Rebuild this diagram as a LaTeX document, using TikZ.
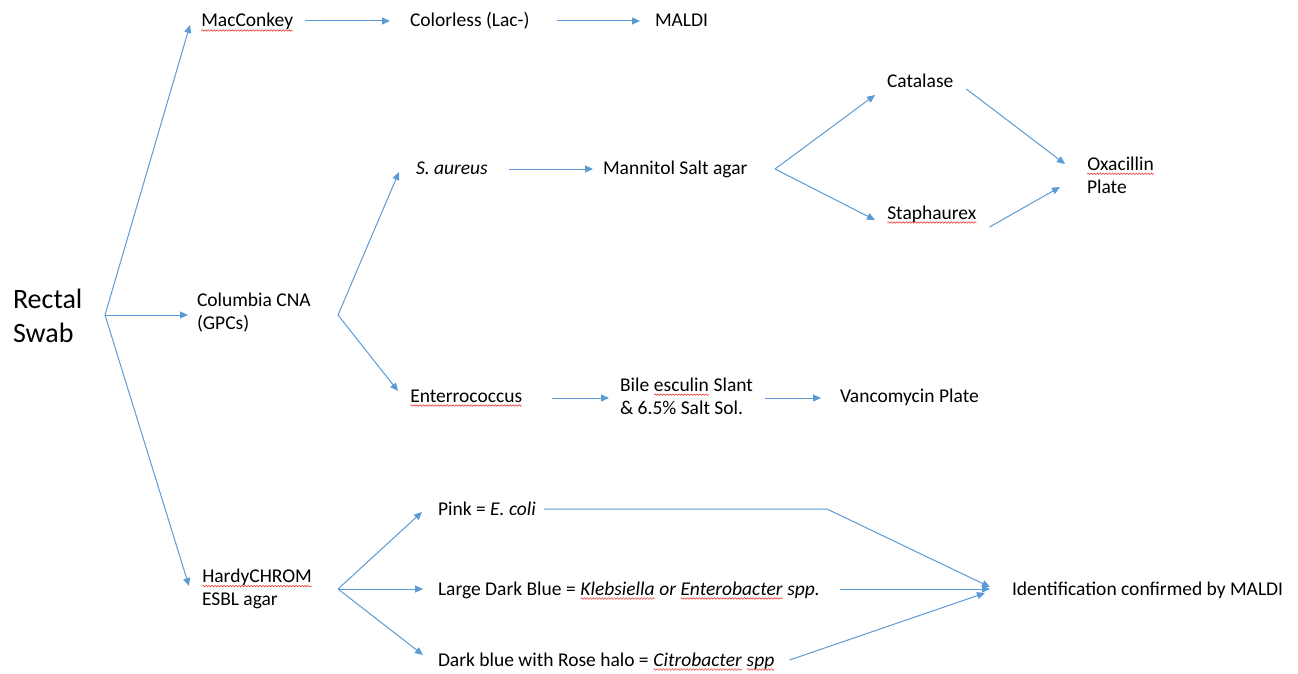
\documentclass[tikz,border=0pt]{standalone}
\usepackage{fontspec}
\setmainfont{Carlito}
\usepackage{xcolor}
\usepackage{tikz}
\usetikzlibrary{arrows.meta}
\usetikzlibrary{decorations.pathmorphing}

\definecolor{flowblue}{RGB}{91,155,213}
\definecolor{spellred}{RGB}{230,40,40}
% red wavy mark under words, as in the scan
\newcommand{\spellmark}[1]{\tikz[baseline=(w.base)]{\node[inner sep=0pt, outer sep=0pt] (w) {#1};
    \draw[spellred, line width=0.5pt, decorate, decoration={snake, amplitude=0.8pt, segment length=3pt}]
        ([yshift=-3.5pt]w.base west) -- ([yshift=-3.5pt]w.base east);}}

\tikzset{
    lbl/.style={anchor=west, inner sep=0pt, outer sep=0pt, text height=14pt, text depth=2pt,
        font=\fontsize{19.5}{23}\selectfont},
    lbltwo/.style={anchor=west, inner sep=0pt, outer sep=0pt, align=left,
        font=\fontsize{19.5}{23}\selectfont},
    flow/.style={draw=flowblue, line width=1pt, -{Triangle[length=8pt,width=7pt]}}
}

\begin{document}
\begin{tikzpicture}[x=1pt, y=-1pt]
    \useasboundingbox (0,0) rectangle (1298,674);

    % Starting point
    \node[lbltwo, font=\fontsize{28}{34}\selectfont] (rectal) at (13, 316) {Rectal\\Swab};
    \coordinate (rs) at (105, 315);

    % MacConkey row
    \node[lbl] (mac) at (201, 21) {\spellmark{MacConkey}};
    \node[lbl] (colorless) at (410, 21) {Colorless (Lac-)};
    \node[lbl] (maldi) at (655, 21) {MALDI};
    \draw[flow] (rs) -- ([xshift=-11pt,yshift=-4pt]mac.west);
    \draw[flow] ([xshift=12pt]mac.east) -- ([xshift=-20pt]colorless.west);
    \draw[flow] ([xshift=27pt]colorless.east) -- ([xshift=-15pt]maldi.west);

    % Columbia CNA branch
    \node[lbltwo] (cna) at (197, 313) {Columbia CNA\\(GPCs)};
    \coordinate (cb) at (338, 315);
    \draw[flow] (rs) -- ([xshift=-9pt,yshift=-2pt]cna.west);

    \node[lbl] (saureus) at (416, 169) {\itshape S. aureus};
    \node[lbl] (mannitol) at (603, 169) {Mannitol Salt agar};
    \coordinate (mb) at (775, 169);
    \node[lbl] (catalase) at (887, 82) {Catalase};
    \node[lbl] (staph) at (887, 213) {\spellmark{Staphaurex}};
    \node[lbltwo] (oxa) at (1087, 175) {\spellmark{Oxacillin}\\Plate};
    \draw[flow] (cb) -- ([xshift=-17pt,yshift=-3pt]saureus.west);
    \draw[flow] ([xshift=21pt]saureus.east) -- ([xshift=-10pt]mannitol.west);
    \draw[flow] (mb) -- ([xshift=-12pt,yshift=-13pt]catalase.west);
    \draw[flow] (mb) -- ([xshift=-12pt,yshift=-7pt]staph.west);
    \draw[flow] ([xshift=13pt,yshift=-7pt]catalase.east) -- ([xshift=-22pt,yshift=11pt]oxa.west);
    \draw[flow] ([xshift=13pt,yshift=-14pt]staph.east) -- ([xshift=-27pt,yshift=-12pt]oxa.west);

    \node[lbl] (entero) at (410, 396) {\spellmark{Enterrococcus}};
    \node[lbltwo] (bile) at (620, 396) {Bile \spellmark{esculin} Slant\\\& 6.5\% Salt Sol.};
    \node[lbl] (vanco) at (840, 396) {Vancomycin Plate};
    \draw[flow] (cb) -- ([xshift=-12pt,yshift=5pt]entero.west);
    \draw[flow] ([xshift=30pt,yshift=-2pt]entero.east) -- ([xshift=-11pt,yshift=-2pt]bile.west);
    \draw[flow] ([xshift=12pt,yshift=-2pt]bile.east) -- ([xshift=-19pt,yshift=-2pt]vanco.west);

    % HardyCHROM branch
    \node[lbltwo] (hardy) at (202, 589) {\spellmark{HardyCHROM}\\ESBL agar};
    \coordinate (hb) at (338, 589);
    \draw[flow] (rs) -- ([xshift=-13pt,yshift=3pt]hardy.west);

    \node[lbl] (pink) at (438, 509) {Pink = \textit{E. coli}};
    \node[lbl] (large) at (438, 589) {Large Dark Blue = \textit{\spellmark{Klebsiella} or \spellmark{Enterobacter} spp.}};
    \node[lbl] (rose) at (438, 660) {Dark blue with Rose halo = \textit{\spellmark{Citrobacter} \spellmark{spp}}};
    \node[lbl] (ident) at (1012, 589) {Identification confirmed by MALDI};
    \draw[flow] (hb) -- ([xshift=-16pt,yshift=-3pt]pink.west);
    \draw[flow] (hb) -- ([xshift=-15pt]large.west);
    \draw[flow] (hb) -- ([xshift=-15pt,yshift=5pt]rose.west);

    \coordinate (kink) at (827, 509);
    \draw[flow] ([xshift=8pt]pink.east) -- (kink) -- ([xshift=-22pt,yshift=2pt]ident.west);
    \draw[flow] ([xshift=20pt]large.east) -- ([xshift=-22pt]ident.west);
    \draw[flow] ([xshift=15pt]rose.east) -- ([xshift=-27pt,yshift=-4pt]ident.west);
\end{tikzpicture}
\end{document}
